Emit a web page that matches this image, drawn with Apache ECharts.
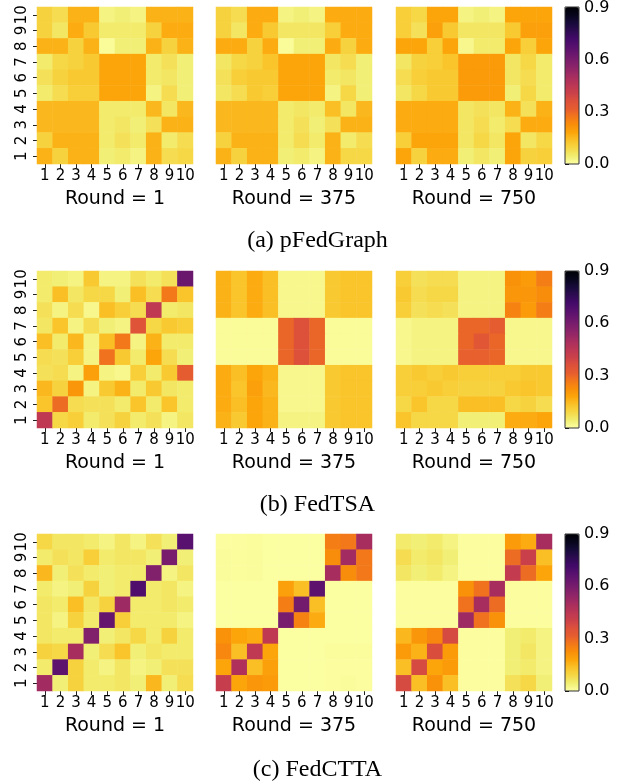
<!DOCTYPE html>
<html><head><meta charset="utf-8">
<script src="https://cdn.jsdelivr.net/npm/echarts@6/dist/echarts.min.js"></script>
<style>html,body{margin:0;padding:0;background:#fff}#c{width:635px;height:784px}</style>
</head><body><div id="c"></div>
<script>
const clients = ['1','2','3','4','5','6','7','8','9','10'];
const rounds = ['Round = 1','Round = 375','Round = 750'];
const methods = ['(a) pFedGraph','(b) FedTSA','(c) FedCTTA'];
const cbTicks = [0.0, 0.3, 0.6, 0.9];
const vMin = 0, vMax = 0.9;

// Matrices: rows listed top (client 10) to bottom (client 1); columns clients 1..10
const pFedGraph_r1 = [
 [0.10,0.08,0.16,0.16,0.03,0.04,0.03,0.16,0.16,0.16],
 [0.10,0.06,0.17,0.12,0.05,0.05,0.05,0.10,0.17,0.17],
 [0.16,0.16,0.10,0.16,0.01,0.04,0.04,0.16,0.10,0.16],
 [0.05,0.09,0.10,0.12,0.18,0.18,0.18,0.05,0.07,0.04],
 [0.07,0.10,0.12,0.12,0.18,0.18,0.18,0.05,0.06,0.04],
 [0.05,0.08,0.11,0.11,0.18,0.18,0.18,0.03,0.08,0.04],
 [0.15,0.15,0.15,0.15,0.05,0.05,0.05,0.15,0.06,0.15],
 [0.15,0.15,0.15,0.15,0.05,0.06,0.04,0.07,0.16,0.16],
 [0.10,0.16,0.16,0.16,0.05,0.07,0.05,0.16,0.05,0.08],
 [0.16,0.10,0.16,0.16,0.04,0.05,0.03,0.16,0.08,0.09]];
const pFedGraph_r375 = [
 [0.10,0.08,0.17,0.17,0.03,0.04,0.03,0.17,0.17,0.17],
 [0.10,0.06,0.17,0.12,0.06,0.06,0.06,0.11,0.17,0.17],
 [0.17,0.17,0.10,0.17,0.01,0.04,0.04,0.17,0.10,0.17],
 [0.06,0.09,0.10,0.13,0.18,0.18,0.18,0.06,0.08,0.04],
 [0.07,0.11,0.12,0.12,0.18,0.18,0.18,0.05,0.06,0.04],
 [0.06,0.08,0.12,0.11,0.18,0.18,0.18,0.03,0.09,0.04],
 [0.15,0.15,0.15,0.15,0.05,0.06,0.05,0.14,0.06,0.15],
 [0.15,0.15,0.15,0.15,0.05,0.07,0.04,0.07,0.16,0.16],
 [0.10,0.16,0.16,0.16,0.05,0.08,0.05,0.16,0.05,0.08],
 [0.16,0.10,0.16,0.16,0.04,0.05,0.03,0.16,0.09,0.09]];
const pFedGraph_r750 = [
 [0.11,0.09,0.18,0.18,0.03,0.04,0.03,0.18,0.18,0.18],
 [0.11,0.07,0.19,0.12,0.06,0.06,0.06,0.12,0.19,0.19],
 [0.18,0.18,0.11,0.18,0.02,0.05,0.05,0.18,0.11,0.18],
 [0.06,0.10,0.11,0.13,0.20,0.20,0.20,0.06,0.09,0.05],
 [0.08,0.11,0.12,0.12,0.20,0.20,0.20,0.06,0.08,0.05],
 [0.06,0.09,0.12,0.12,0.20,0.20,0.20,0.04,0.09,0.05],
 [0.17,0.17,0.17,0.17,0.06,0.07,0.06,0.16,0.07,0.16],
 [0.17,0.17,0.17,0.17,0.06,0.08,0.05,0.08,0.17,0.17],
 [0.11,0.18,0.18,0.18,0.06,0.09,0.06,0.18,0.06,0.09],
 [0.18,0.10,0.17,0.17,0.04,0.06,0.04,0.18,0.10,0.11]];
const fedTSA_r1 = [
 [0.05,0.04,0.03,0.12,0.03,0.03,0.07,0.05,0.07,0.63],
 [0.05,0.14,0.06,0.09,0.09,0.04,0.14,0.08,0.27,0.13],
 [0.07,0.03,0.08,0.02,0.14,0.11,0.08,0.44,0.05,0.06],
 [0.06,0.13,0.03,0.08,0.04,0.03,0.35,0.09,0.12,0.11],
 [0.14,0.05,0.15,0.03,0.14,0.27,0.03,0.16,0.05,0.05],
 [0.08,0.07,0.11,0.03,0.28,0.12,0.05,0.18,0.08,0.04],
 [0.07,0.08,0.03,0.19,0.03,0.02,0.11,0.05,0.12,0.32],
 [0.15,0.10,0.21,0.03,0.12,0.16,0.05,0.12,0.06,0.05],
 [0.13,0.29,0.08,0.07,0.07,0.05,0.13,0.05,0.13,0.05],
 [0.44,0.09,0.11,0.05,0.07,0.10,0.05,0.07,0.03,0.06]];
const fedTSA_r375 = [
 [0.16,0.13,0.17,0.14,0.02,0.02,0.02,0.12,0.13,0.13],
 [0.16,0.13,0.17,0.14,0.02,0.02,0.02,0.12,0.13,0.13],
 [0.16,0.13,0.17,0.14,0.02,0.02,0.02,0.12,0.13,0.13],
 [0.01,0.01,0.01,0.01,0.30,0.36,0.30,0.01,0.01,0.01],
 [0.01,0.01,0.01,0.01,0.30,0.36,0.30,0.01,0.01,0.01],
 [0.01,0.01,0.01,0.01,0.30,0.36,0.30,0.01,0.01,0.01],
 [0.17,0.14,0.18,0.16,0.02,0.02,0.02,0.12,0.13,0.13],
 [0.17,0.13,0.19,0.15,0.02,0.02,0.02,0.12,0.13,0.13],
 [0.17,0.14,0.18,0.16,0.02,0.02,0.02,0.12,0.13,0.13],
 [0.16,0.12,0.18,0.16,0.03,0.03,0.03,0.12,0.13,0.13]];
const fedTSA_r750 = [
 [0.11,0.07,0.08,0.08,0.03,0.03,0.03,0.22,0.20,0.26],
 [0.12,0.08,0.09,0.09,0.03,0.03,0.03,0.21,0.21,0.23],
 [0.11,0.07,0.08,0.07,0.03,0.03,0.03,0.25,0.20,0.26],
 [0.02,0.03,0.03,0.03,0.30,0.30,0.32,0.02,0.02,0.02],
 [0.02,0.03,0.03,0.03,0.30,0.34,0.30,0.02,0.02,0.02],
 [0.02,0.03,0.03,0.03,0.31,0.31,0.30,0.02,0.02,0.02],
 [0.11,0.12,0.11,0.12,0.11,0.11,0.11,0.11,0.12,0.12],
 [0.11,0.11,0.12,0.11,0.10,0.10,0.10,0.12,0.13,0.12],
 [0.09,0.13,0.09,0.09,0.14,0.14,0.14,0.09,0.10,0.08],
 [0.13,0.09,0.09,0.09,0.04,0.04,0.04,0.17,0.17,0.18]];
const fedCTTA_r1 = [
 [0.09,0.06,0.06,0.05,0.03,0.06,0.03,0.07,0.04,0.67],
 [0.05,0.07,0.06,0.11,0.05,0.06,0.06,0.04,0.60,0.04],
 [0.15,0.04,0.07,0.05,0.04,0.05,0.05,0.58,0.03,0.06],
 [0.05,0.03,0.04,0.10,0.04,0.05,0.69,0.05,0.06,0.03],
 [0.06,0.05,0.14,0.06,0.10,0.52,0.05,0.05,0.06,0.05],
 [0.06,0.03,0.10,0.05,0.64,0.11,0.05,0.05,0.05,0.03],
 [0.06,0.05,0.05,0.58,0.04,0.06,0.09,0.05,0.10,0.05],
 [0.10,0.09,0.50,0.04,0.08,0.13,0.04,0.06,0.05,0.05],
 [0.05,0.66,0.10,0.05,0.03,0.06,0.03,0.04,0.07,0.07],
 [0.51,0.04,0.10,0.05,0.05,0.06,0.04,0.15,0.04,0.08]];
const fedCTTA_r375 = [
 [0.004,0.004,0.006,0.003,0.003,0.003,0.003,0.26,0.27,0.50],
 [0.008,0.006,0.008,0.003,0.003,0.003,0.003,0.23,0.51,0.27],
 [0.008,0.006,0.008,0.003,0.003,0.003,0.003,0.50,0.23,0.27],
 [0.003,0.003,0.003,0.003,0.19,0.14,0.66,0.003,0.003,0.003],
 [0.003,0.003,0.003,0.003,0.26,0.61,0.14,0.003,0.003,0.003],
 [0.003,0.003,0.003,0.003,0.60,0.25,0.17,0.003,0.003,0.003],
 [0.22,0.18,0.17,0.44,0.003,0.003,0.003,0.003,0.003,0.003],
 [0.24,0.14,0.44,0.18,0.003,0.003,0.003,0.006,0.006,0.006],
 [0.18,0.48,0.14,0.19,0.003,0.003,0.003,0.004,0.004,0.004],
 [0.42,0.18,0.21,0.20,0.003,0.003,0.003,0.004,0.008,0.004]];
const fedCTTA_r750 = [
 [0.05,0.04,0.05,0.03,0.004,0.004,0.004,0.20,0.17,0.50],
 [0.08,0.05,0.06,0.04,0.004,0.004,0.004,0.29,0.41,0.14],
 [0.06,0.04,0.05,0.03,0.004,0.004,0.004,0.43,0.29,0.18],
 [0.004,0.004,0.004,0.004,0.22,0.28,0.50,0.004,0.004,0.004],
 [0.004,0.004,0.004,0.004,0.28,0.50,0.29,0.004,0.004,0.004],
 [0.004,0.004,0.004,0.004,0.52,0.28,0.22,0.004,0.004,0.004],
 [0.15,0.21,0.24,0.38,0.004,0.004,0.004,0.04,0.05,0.03],
 [0.20,0.16,0.37,0.20,0.004,0.004,0.004,0.04,0.06,0.03],
 [0.14,0.38,0.18,0.20,0.004,0.004,0.004,0.04,0.05,0.03],
 [0.38,0.14,0.22,0.14,0.004,0.004,0.004,0.07,0.09,0.04]];

const panels = [
  [pFedGraph_r1, pFedGraph_r375, pFedGraph_r750],
  [fedTSA_r1, fedTSA_r375, fedTSA_r750],
  [fedCTTA_r1, fedCTTA_r375, fedCTTA_r750]
];

// inferno reversed (value 0 -> light yellow, 0.9 -> black)
const infernoR = ['#fcffa4','#f1ed71','#f6d746','#fac228','#fca50a','#f98e09','#f37819','#e65d2f','#dd513a','#cb4149','#bc3754','#a92e5e','#932667','#7f1f6c','#6a176e','#56106e','#420a68','#2c0b51','#160b39','#07051b','#000004'];

const gx = [37, 216, 396], gy = [7, 271, 534], gw = 156, gh = 157;
const cbX = 565, cbW = 14;
const sans = 'DejaVu Sans';

const grid = [], xAxis = [], yAxis = [], series = [], visualMap = [], title = [], graphic = [];
for (let r = 0; r < 3; r++) {
  const rowSeries = [];
  for (let c = 0; c < 3; c++) {
    const k = grid.length;
    grid.push({left: gx[c], top: gy[r], width: gw, height: gh});
    xAxis.push({
      type: 'category', data: clients, gridIndex: k,
      name: rounds[c], nameLocation: 'middle', nameGap: 26,
      nameTextStyle: {fontFamily: sans, fontSize: 19, color: '#000'},
      axisLine: {show: false},
      axisTick: {show: true, alignWithLabel: true, length: 4, lineStyle: {color: '#222'}},
      axisLabel: {interval: 0, fontFamily: sans, fontSize: 15, color: '#000', margin: 5},
      splitLine: {show: false}
    });
    yAxis.push({
      type: 'category', data: clients, gridIndex: k,
      axisLine: {show: false},
      axisTick: {show: c === 0, alignWithLabel: true, length: 4, lineStyle: {color: '#222'}},
      axisLabel: {show: c === 0, interval: 0, rotate: 90, fontFamily: sans, fontSize: 15, color: '#000', margin: 7},
      splitLine: {show: false}
    });
    const m = panels[r][c];
    const data = [];
    for (let i = 0; i < 10; i++) for (let j = 0; j < 10; j++) data.push([j, 9 - i, m[i][j]]);
    rowSeries.push(series.length);
    series.push({type: 'heatmap', xAxisIndex: k, yAxisIndex: k, data: data, emphasis: {disabled: true}, animation: false});
  }
  // colorbar axis
  const k = grid.length;
  grid.push({left: cbX, top: gy[r], width: cbW, height: gh});
  xAxis.push({type: 'value', gridIndex: k, show: false});
  yAxis.push({
    type: 'value', gridIndex: k, position: 'right', min: vMin, max: vMax, interval: 0.3,
    axisLine: {show: false}, splitLine: {show: false},
    axisTick: {show: true, length: 4, lineStyle: {color: '#000'}},
    axisLabel: {fontFamily: sans, fontSize: 16, color: '#000', margin: 5,
      formatter: v => cbTicks.some(t => Math.abs(t - v) < 1e-6) ? v.toFixed(1) : ''}
  });
  visualMap.push({
    type: 'continuous', min: vMin, max: vMax, seriesIndex: rowSeries,
    left: cbX, top: gy[r], itemWidth: cbW, itemHeight: gh, padding: 0,
    calculable: false, hoverLink: false, text: null, showLabel: false,
    inRange: {color: infernoR}
  });
  graphic.push({type: 'rect', shape: {x: cbX, y: gy[r], width: cbW, height: gh},
    style: {fill: 'none', stroke: '#333', lineWidth: 1}, z: 100});
  title.push({text: methods[r], left: 'center', top: [224, 488, 753][r],
    textStyle: {fontFamily: 'Liberation Serif', fontSize: 24, fontWeight: 'normal', color: '#000'}});
}

const chart = echarts.init(document.getElementById('c'), null, {renderer: 'canvas'});
chart.setOption({animation: false, title, grid, xAxis, yAxis, series, visualMap, graphic});
</script></body></html>
